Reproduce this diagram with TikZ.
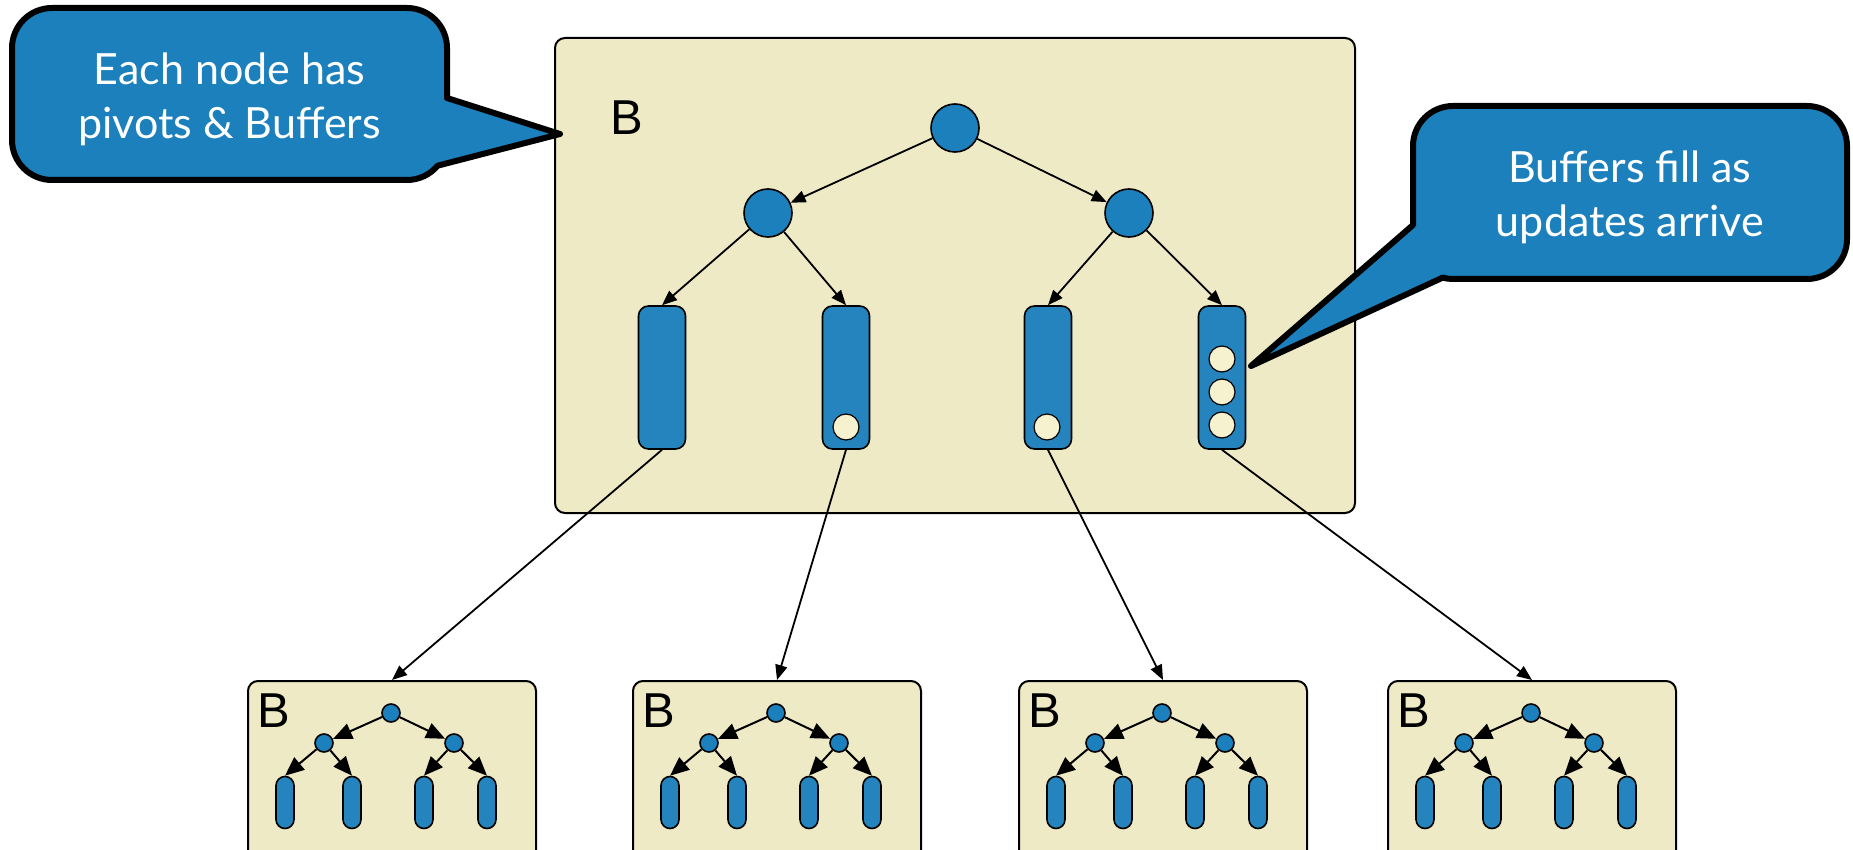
\documentclass[tikz,border=0pt]{standalone}
\usepackage{fontspec}
\setmainfont{Liberation Sans}
\newfontfamily\notefont{Lato}
\usetikzlibrary{positioning, arrows.meta}
\definecolor{nodeblue}{RGB}{28,128,189}
\definecolor{bufblue}{RGB}{37,132,189}
\definecolor{treebg}{RGB}{238,234,197}
\definecolor{slotfill}{RGB}{246,241,206}

\tikzset{
  treebox/.style={rectangle, rounded corners=5pt, draw=black, line width=1pt, fill=treebg, inner sep=0pt},
  pivot/.style={circle, draw=black, line width=0.8pt, fill=nodeblue, inner sep=0pt, minimum size=#1},
  buffer/.style={rectangle, rounded corners=5pt, draw=black, line width=0.8pt, fill=bufblue, inner sep=0pt, minimum width=23.5pt, minimum height=71.5pt},
  minibuffer/.style={rectangle, rounded corners=4.5pt, draw=black, line width=0.8pt, fill=bufblue, inner sep=0pt, minimum width=9pt, minimum height=26pt},
  update/.style={circle, draw=black, line width=0.6pt, fill=slotfill, inner sep=0pt, minimum size=13pt},
  tlabel/.style={font=\fontsize{24.5}{24.5}\selectfont},
  tarrow/.style={-{Triangle[length=7.5pt, width=6pt]}, line width=0.9pt},
  minarrow/.style={-{Triangle[length=9.5pt, width=8pt]}, line width=1pt},
  callout/.style={draw=black, line width=3pt, line join=round, fill=nodeblue},
  notetext/.style={text=white, align=center, font=\notefont\fontsize{21.5}{27}\selectfont}
}

\begin{document}
\begin{tikzpicture}[x=0.5pt, y=-0.5pt]
    \useasboundingbox (0,0) rectangle (1853,850);
    \clip (0,0) rectangle (1853,850);

    % Top node of the tree
    \node[treebox, minimum width=400pt, minimum height=237.5pt] (bigB) at (955,275.5) {};
    \node[tlabel] (bigBlabel) at (627,118) {B};

    % Pivots
    \node[pivot=24pt] (root) at (955,128) {};
    \node[pivot=24pt] (pl) at (768,213) {};
    \node[pivot=24pt] (pr) at (1129,213) {};

    % Buffers
    \node[buffer] (buf1) at (662,377.5) {};
    \node[buffer] (buf2) at (846,377.5) {};
    \node[buffer] (buf3) at (1048,377.5) {};
    \node[buffer] (buf4) at (1222,377.5) {};

    % Updates sitting in the buffers
    \node[update] (u2) at (846,427) {};
    \node[update] (u3) at (1047,427) {};
    \node[update] (u4a) at (1222,425) {};
    \node[update] (u4b) at (1222,392) {};
    \node[update] (u4c) at (1222,359) {};

    \draw[tarrow] (root) -- (pl);
    \draw[tarrow] (root) -- (pr);
    \draw[tarrow] (pl) -- (buf1.north);
    \draw[tarrow] (pl) -- (buf2.north);
    \draw[tarrow] (pr) -- (buf3.north);
    \draw[tarrow] (pr) -- (buf4.north);

    % Child nodes, each a small tree of its own
    \foreach \i/\L in {1/247, 2/632, 3/1018, 4/1387} {
        \node[treebox, anchor=north west, minimum width=144pt, minimum height=95pt] (sb\i) at (\L,680) {};
        \node[tlabel] (sbl\i) at ({\L+27},711) {B};
        \node[pivot=9pt] (sr\i) at ({\L+144},713) {};
        \node[pivot=9pt] (sl\i) at ({\L+77},743) {};
        \node[pivot=9pt] (sp\i) at ({\L+207},743) {};
        \node[minibuffer] (sa\i) at ({\L+38},802.5) {};
        \node[minibuffer] (sc\i) at ({\L+105},802.5) {};
        \node[minibuffer] (sd\i) at ({\L+177},802.5) {};
        \node[minibuffer] (se\i) at ({\L+240},802.5) {};
        \draw[minarrow] (sr\i) -- (sl\i);
        \draw[minarrow] (sr\i) -- (sp\i);
        \draw[minarrow] (sl\i) -- (sa\i.north);
        \draw[minarrow] (sl\i) -- (sc\i.north);
        \draw[minarrow] (sp\i) -- (sd\i.north);
        \draw[minarrow] (sp\i) -- (se\i.north);
    }

    % Buffers flush down to the children
    \draw[tarrow] (buf1.south) -- (sb1.north);
    \draw[tarrow] (buf2.south) -- (sb2.north);
    \draw[tarrow] (buf3.south) -- (sb3.north);
    \draw[tarrow] (buf4.south) -- (sb4.north);

    % Speech bubbles
    \draw[callout] (52,8) -- (407,8) arc[start angle=90, end angle=0, radius=20pt]
        -- (447,98) -- (560,134) -- (437.6,165.7) arc[start angle=-40, end angle=-90, radius=20pt]
        -- (52,180) arc[start angle=-90, end angle=-180, radius=20pt]
        -- (12,48) arc[start angle=180, end angle=90, radius=20pt] -- cycle;
    \node[notetext] (pivotnote) at (229.5,99) {Each node has\\pivots \& Buffers};

    \draw[callout] (1453,106) -- (1807,106) arc[start angle=90, end angle=0, radius=20pt]
        -- (1847,239) arc[start angle=0, end angle=-90, radius=20pt]
        -- (1453,279) arc[start angle=-90, end angle=-105, radius=20pt]
        -- (1251,366) -- (1413,225)
        -- (1413,146) arc[start angle=180, end angle=90, radius=20pt] -- cycle;
    \node[notetext] (fillnote) at (1630,197) {Buffers fill as\\updates arrive};
\end{tikzpicture}
\end{document}
